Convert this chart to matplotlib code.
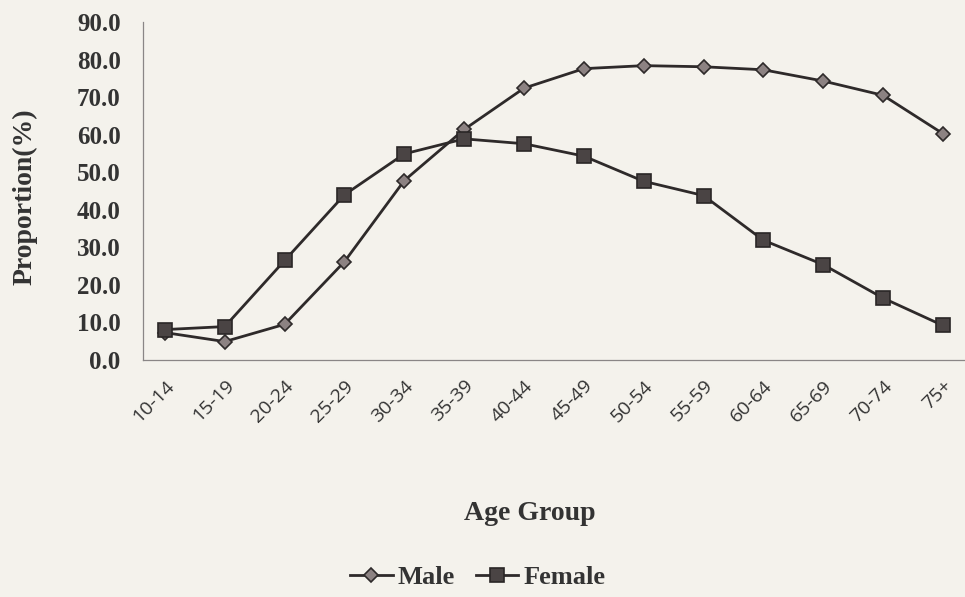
import matplotlib
matplotlib.use("Agg")
import matplotlib.pyplot as plt

# data
age_groups = ["10-14", "15-19", "20-24", "25-29", "30-34", "35-39", "40-44",
              "45-49", "50-54", "55-59", "60-64", "65-69", "70-74", "75+"]
male = [7.3, 4.9, 9.5, 26.2, 47.8, 61.4, 72.4, 77.6, 78.4, 78.1, 77.3, 74.3, 70.5, 60.3]
female = [8.1, 8.9, 26.5, 44.0, 54.9, 58.9, 57.6, 54.3, 47.6, 43.8, 31.9, 25.4, 16.5, 9.2]
y_ticks = [0, 10, 20, 30, 40, 50, 60, 70, 80, 90]

paper = "#f4f2ec"
ink = "#2e2a2a"
serif_bold = {"family": "Liberation Serif", "weight": "bold"}

fig = plt.figure(figsize=(9.65, 5.97), dpi=100, facecolor=paper)
ax = fig.add_axes([0.148, 0.397, 0.852, 0.566], facecolor=paper)

x = list(range(len(age_groups)))
ax.plot(x, male, color=ink, lw=2, marker="D", markersize=7,
        markerfacecolor="#8c8282", markeredgecolor=ink, markeredgewidth=1.2,
        label="Male")
ax.plot(x, female, color=ink, lw=2, marker="s", markersize=10,
        markerfacecolor="#4a4444", markeredgecolor="#2a2626", markeredgewidth=1.2,
        label="Female")

ax.set_xlim(-0.37, 13.37)
ax.set_ylim(0, 90)
ax.set_yticks(y_ticks)
ax.set_yticklabels([f"{v:.1f}" for v in y_ticks], fontsize=18, **serif_bold)
ax.set_xticks(x)
ax.set_xticklabels(age_groups, rotation=45, ha="right", rotation_mode="anchor",
                   fontsize=14, family="Open Sans")
ax.tick_params(axis="y", length=0, pad=16, colors="#333333")
ax.tick_params(axis="x", length=0, pad=12, colors="#333333")

for side in ["top", "right"]:
    ax.spines[side].set_visible(False)
for side in ["left", "bottom"]:
    ax.spines[side].set_color("#8a8686")
    ax.spines[side].set_linewidth(0.9)

fig.text(25 / 965, 1 - 197 / 597, "Proportion(%)", rotation=90,
         ha="center", va="center", fontsize=20, color="#333333", **serif_bold)
fig.text(530 / 965, 1 - 514 / 597, "Age Group", ha="center", va="center",
         fontsize=20, color="#333333", **serif_bold)

fig.legend(loc="center", bbox_to_anchor=(478 / 965, 1 - 577 / 597), ncol=2,
           frameon=False, handlelength=1.6, handletextpad=0.2, columnspacing=0.8,
           prop={"family": "Liberation Serif", "weight": "bold", "size": 19},
           labelcolor="#333333")

fig.savefig("out.png", dpi=100, facecolor=paper)
